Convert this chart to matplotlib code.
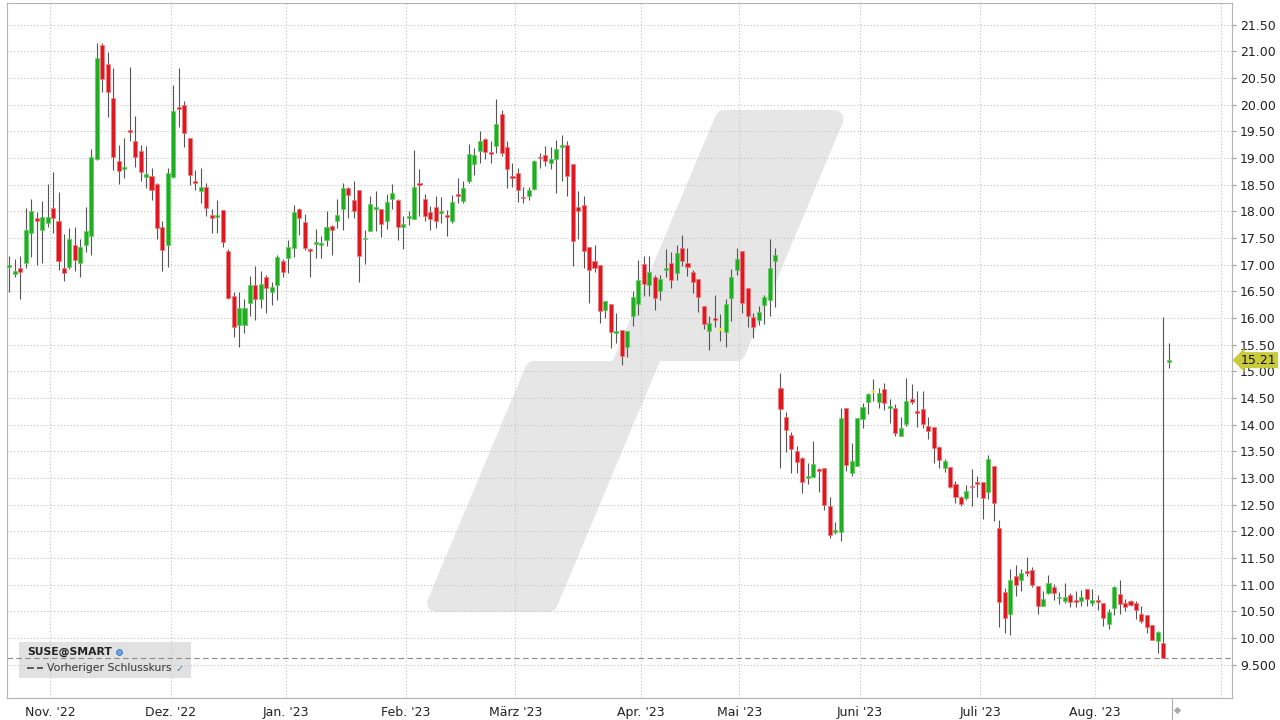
import matplotlib
matplotlib.use('Agg')
import matplotlib.pyplot as plt
import numpy as np
from matplotlib.patches import Polygon, Rectangle
from matplotlib.transforms import Affine2D, blended_transform_factory
from matplotlib.lines import Line2D

# ---------------- data ----------------
opens = [
    16.96, 16.83, 16.94, 17.03, 17.59, 17.88, 17.65, 17.78, 18.06, 17.82,
    16.93, 16.96, 17.37, 17.04, 17.37, 17.53, 18.98, 21.12, 20.76, 20.13,
    18.94, 18.79, 19.52, 19.32, 19.13, 18.65, 18.66, 18.51, 17.71, 17.37,
    18.64, 19.95, 19.99, 19.38, 18.57, 18.39, 18.45, 17.93, 17.90, 18.03,
    17.26, 16.42, 15.87, 15.86, 16.28, 16.61, 16.36, 16.77, 16.48, 16.61,
    17.07, 17.13, 17.32, 18.04, 17.80, 17.29, 17.40, 17.37, 17.47, 17.72,
    17.82, 18.04, 18.44, 18.21, 18.40, 17.48, 17.64, 18.06, 18.04, 17.82,
    18.23, 18.21, 17.71, 17.88, 17.86, 18.52, 18.23, 17.99, 18.09, 17.97,
    17.92, 17.82, 18.32, 18.20, 18.56, 18.89, 19.14, 19.35, 19.11, 19.23,
    19.82, 19.20, 18.66, 18.71, 18.27, 18.28, 18.41, 19.02, 19.06, 18.91,
    18.98, 19.22, 19.24, 18.89, 18.09, 18.11, 17.34, 17.07, 17.00, 16.15,
    16.26, 15.71, 15.78, 15.46, 16.04, 16.26, 17.01, 16.62, 16.76, 16.51,
    16.91, 17.04, 16.85, 17.32, 17.04, 16.86, 16.74, 16.23, 15.76, 15.99,
    15.79, 15.73, 16.38, 16.90, 17.26, 16.56, 16.01, 15.96, 16.24, 16.34,
    17.06, 14.69, 14.15, 13.81, 13.51, 13.37, 13.01, 13.01, 13.17, 13.18,
    12.48, 12.00, 11.99, 14.31, 13.09, 13.23, 14.11, 14.42, 14.63, 14.42,
    14.67, 14.31, 14.31, 13.79, 14.01, 14.49, 14.25, 14.29, 13.98, 13.96,
    13.59, 13.18, 13.20, 12.89, 12.64, 12.63, 12.85, 12.92, 12.92, 12.73,
    13.23, 12.07, 10.86, 10.45, 11.16, 11.08, 11.24, 11.28, 10.98, 10.60,
    10.84, 10.95, 10.75, 10.69, 10.81, 10.71, 10.70, 10.91, 10.66, 10.71,
    10.65, 10.26, 10.56, 10.83, 10.66, 10.70, 10.66, 10.45, 10.43, 10.24,
    9.94, 9.91, 15.19,
]
highs = [
    17.16, 17.10, 17.16, 18.06, 18.24, 17.98, 18.19, 18.51, 18.74, 18.36,
    17.58, 17.68, 17.70, 17.49, 18.09, 19.17, 21.15, 21.15, 20.99, 20.69,
    19.24, 19.37, 20.70, 19.78, 19.24, 19.23, 18.81, 18.54, 17.81, 18.81,
    20.37, 20.68, 20.07, 19.38, 18.78, 18.81, 18.54, 18.04, 18.22, 18.03,
    17.29, 16.49, 16.49, 16.36, 16.79, 16.97, 16.89, 16.81, 16.68, 17.18,
    17.10, 17.46, 18.12, 18.06, 17.95, 17.31, 17.66, 17.54, 18.01, 17.74,
    18.24, 18.54, 18.46, 18.57, 18.40, 17.65, 18.29, 18.38, 18.04, 18.33,
    18.51, 18.24, 17.91, 18.01, 19.15, 18.79, 18.33, 18.10, 18.28, 18.26,
    18.03, 18.31, 18.62, 18.57, 19.26, 19.18, 19.51, 19.37, 19.31, 20.10,
    19.90, 19.31, 18.90, 18.81, 18.46, 18.46, 18.96, 19.09, 19.23, 19.21,
    19.33, 19.44, 19.31, 18.89, 18.38, 18.28, 17.34, 17.37, 17.00, 16.32,
    16.26, 16.10, 15.78, 15.76, 16.51, 17.08, 17.16, 17.16, 16.81, 16.81,
    17.29, 17.23, 17.37, 17.56, 17.31, 16.90, 16.74, 16.23, 16.03, 16.44,
    16.07, 16.35, 16.91, 17.31, 17.26, 16.56, 16.10, 16.23, 16.43, 17.49,
    17.31, 14.97, 14.24, 13.87, 13.60, 13.40, 13.28, 13.69, 13.18, 13.18,
    12.65, 12.18, 14.32, 14.31, 13.65, 14.12, 14.40, 14.59, 14.86, 14.68,
    14.78, 14.49, 14.39, 14.15, 14.87, 14.76, 14.63, 14.63, 14.14, 13.96,
    13.60, 13.36, 13.20, 12.95, 12.66, 12.87, 13.17, 13.03, 12.92, 13.43,
    13.23, 12.21, 10.93, 11.29, 11.37, 11.29, 11.51, 11.33, 10.98, 10.88,
    11.19, 11.01, 10.87, 11.03, 10.84, 10.89, 10.90, 10.91, 10.91, 10.81,
    10.65, 10.54, 10.98, 11.09, 10.74, 10.71, 10.70, 10.60, 10.43, 10.24,
    10.13, 16.01, 15.53,
]
lows = [
    16.49, 16.76, 16.35, 16.93, 17.15, 16.99, 17.03, 17.71, 17.59, 16.90,
    16.69, 16.91, 16.88, 16.76, 17.23, 17.18, 18.96, 20.24, 19.76, 18.78,
    18.51, 18.62, 19.31, 18.84, 18.56, 18.43, 18.22, 17.48, 16.89, 16.96,
    18.62, 19.59, 19.20, 18.49, 18.40, 18.15, 17.92, 17.59, 17.59, 17.34,
    16.35, 15.65, 15.46, 15.71, 16.03, 15.96, 16.18, 16.10, 16.24, 16.34,
    16.77, 16.84, 17.15, 17.56, 17.28, 16.77, 17.12, 17.13, 17.35, 17.19,
    17.68, 17.65, 17.87, 17.88, 16.68, 17.01, 17.64, 17.64, 17.51, 17.66,
    18.04, 17.46, 17.29, 17.74, 17.86, 17.91, 17.82, 17.65, 17.68, 17.79,
    17.53, 17.79, 18.15, 18.15, 18.53, 18.68, 18.90, 18.98, 18.90, 19.10,
    19.03, 18.44, 18.46, 18.18, 18.15, 18.21, 18.40, 18.81, 18.85, 18.79,
    18.35, 18.56, 18.29, 16.98, 17.48, 16.93, 16.29, 16.87, 15.90, 16.00,
    15.43, 15.53, 15.12, 15.26, 15.85, 16.06, 16.41, 16.41, 16.15, 16.33,
    16.76, 16.56, 16.71, 16.98, 16.79, 16.46, 16.11, 15.79, 15.40, 15.84,
    15.56, 15.45, 15.94, 16.81, 16.09, 15.83, 15.63, 15.87, 15.88, 16.03,
    16.20, 13.19, 13.48, 13.10, 13.10, 12.71, 12.88, 13.01, 12.74, 12.40,
    11.87, 11.95, 11.82, 13.14, 13.03, 13.23, 13.93, 14.20, 14.44, 14.31,
    14.28, 14.04, 13.78, 13.79, 13.98, 14.39, 13.95, 13.93, 13.73, 13.29,
    13.19, 13.11, 12.81, 12.53, 12.48, 12.58, 12.48, 12.65, 12.23, 12.60,
    12.19, 10.21, 10.10, 10.06, 10.78, 10.89, 11.16, 10.95, 10.45, 10.60,
    10.83, 10.71, 10.63, 10.66, 10.58, 10.58, 10.60, 10.60, 10.60, 10.53,
    10.23, 10.16, 10.43, 10.45, 10.50, 10.60, 10.35, 10.29, 10.10, 9.96,
    9.71, 9.62, 15.06,
]
closes = [
    16.99, 16.89, 16.86, 17.65, 18.00, 17.82, 17.90, 17.90, 17.88, 17.07,
    16.85, 17.49, 17.09, 17.33, 17.63, 19.01, 20.87, 20.48, 20.24, 19.02,
    18.76, 18.84, 19.50, 19.01, 18.74, 18.70, 18.40, 17.69, 17.28, 18.71,
    19.88, 19.93, 19.46, 18.68, 18.53, 18.45, 18.06, 17.88, 17.92, 17.43,
    16.38, 15.84, 16.18, 16.18, 16.61, 16.36, 16.63, 16.56, 16.59, 17.15,
    16.86, 17.34, 17.99, 17.88, 17.32, 17.26, 17.42, 17.39, 17.71, 17.65,
    17.93, 18.44, 18.31, 18.01, 17.16, 17.50, 18.14, 18.08, 17.76, 18.17,
    18.35, 17.70, 17.76, 17.90, 18.45, 18.50, 17.91, 17.86, 17.82, 17.99,
    17.90, 18.17, 18.30, 18.43, 19.07, 19.06, 19.31, 19.11, 19.09, 19.64,
    19.10, 18.79, 18.64, 18.40, 18.25, 18.40, 18.94, 19.00, 18.95, 18.99,
    19.16, 19.24, 18.67, 17.45, 18.01, 17.26, 16.90, 16.94, 16.14, 16.32,
    15.73, 15.76, 15.28, 15.76, 16.40, 16.71, 16.64, 16.86, 16.38, 16.74,
    16.93, 16.71, 17.21, 17.06, 16.95, 16.68, 16.39, 15.88, 15.91, 15.96,
    15.79, 16.26, 16.76, 17.10, 16.28, 16.03, 15.84, 16.11, 16.39, 16.94,
    17.19, 14.29, 13.90, 13.54, 13.30, 12.92, 13.04, 13.26, 13.13, 12.49,
    11.93, 12.02, 14.13, 13.24, 13.31, 14.12, 14.34, 14.57, 14.63, 14.59,
    14.40, 14.35, 13.84, 13.94, 14.44, 14.43, 14.23, 14.01, 13.89, 13.57,
    13.34, 13.32, 12.84, 12.65, 12.51, 12.76, 12.83, 12.90, 12.62, 13.36,
    12.53, 10.67, 10.38, 11.09, 10.99, 11.21, 11.22, 10.99, 10.60, 10.74,
    11.04, 10.84, 10.77, 10.76, 10.68, 10.69, 10.76, 10.74, 10.71, 10.69,
    10.37, 10.48, 10.95, 10.64, 10.58, 10.62, 10.53, 10.31, 10.21, 9.96,
    10.11, 9.62, 15.21,
]

month_labels = ["Nov. '22", "Dez. '22", "Jan. '23", "Feb. '23", "März '23",
                "Apr. '23", "Mai '23", "Juni '23", "Juli '23", "Aug. '23", ""]
month_start = [8, 30, 51, 73, 93, 116, 134, 156, 178, 199, 222]

y_ticks = [9.5, 10.0, 10.5, 11.0, 11.5, 12.0, 12.5, 13.0, 13.5, 14.0, 14.5,
           15.0, 15.5, 16.0, 16.5, 17.0, 17.5, 18.0, 18.5, 19.0, 19.5, 20.0,
           20.5, 21.0, 21.5]
y_tick_labels = ["9.500", "10.00", "10.50", "11.00", "11.50", "12.00", "12.50",
                 "13.00", "13.50", "14.00", "14.50", "15.00", "15.50", "16.00",
                 "16.50", "17.00", "17.50", "18.00", "18.50", "19.00", "19.50",
                 "20.00", "20.50", "21.00", "21.50"]

prev_close = 9.62
last_price = 15.21
ticker = "SUSE@SMART"
prev_close_label = "Vorheriger Schlusskurs"

# ---------------- figure ----------------
W, H = 1280, 720
fig = plt.figure(figsize=(12.8, 7.2), dpi=100)
ax = fig.add_axes([6.7 / W, 22 / H, 1225 / W, 695 / H])
ax.set_facecolor('white')

# pixel -> figure transform (for decorations)
T = Affine2D().scale(1 / W, -1 / H).translate(0, 1) + fig.transFigure

# watermark (slanted logo shape)
wm = [(724.0, 119), (834.5, 119), (736.6, 352), (654.0, 352), (548.6, 603),
      (436.1, 603), (534.0, 370), (618.6, 370)]
ax.add_patch(Polygon(wm, closed=True, transform=T, fc='#e6e6e6', ec='#e6e6e6',
                     lw=13, joinstyle='round', zorder=0.1))

# legend box
ax.add_patch(Rectangle((19, 642), 172, 36, transform=T, fc='#e1e1e1', ec='none',
                       zorder=0.3, clip_on=False))

x = np.arange(len(opens))
o = np.array(opens); c = np.array(closes); hi = np.array(highs); lo = np.array(lows)

body_cols, edge_cols = [], []
for oo, cc in zip(o, c):
    if cc > oo:
        body_cols.append('#21ad21'); edge_cols.append('#5fcf5f')
    elif cc < oo:
        body_cols.append('#dd1820'); edge_cols.append('#f07a7e')
    else:
        body_cols.append('#e8e21a'); edge_cols.append('#f0ee80')

min_h = 0.035
hgt = np.maximum(np.abs(c - o), min_h)
bottom = np.minimum(o, c) - (hgt - np.abs(c - o)) / 2

ax.vlines(x, lo, hi, color='#555555', lw=0.8, zorder=3)
ax.bar(x, hgt, bottom=bottom, width=0.74, color=body_cols, edgecolor=edge_cols,
       linewidth=0.5, zorder=4)

# previous close line
ax.axhline(prev_close, color='#8a8a8a', lw=0.8, ls=(0, (5, 3)), zorder=2.5)

ax.set_xlim(-0.475, 223.5)
ax.set_ylim(8.875, 21.906)

ax.set_xticks([m - 0.5 for m in month_start])
ax.set_xticklabels(month_labels)
ax.set_yticks(y_ticks)
ax.set_yticklabels(y_tick_labels)
ax.yaxis.tick_right()
ax.set_axisbelow(True)
ax.grid(True, color='#c4c4c4', lw=0.8, ls=(0, (1, 2)))
ax.tick_params(axis='x', length=0, pad=6, labelsize=9, labelcolor='#222222')
ax.tick_params(axis='y', length=3, color='#999999', pad=3, labelsize=9,
               labelcolor='#222222')
for s in ax.spines.values():
    s.set_color('#b4b4b4')
    s.set_linewidth(0.8)

# last price label
tr = blended_transform_factory(ax.transAxes, ax.transData)
ax.text(1.0075, last_price, f"{last_price:.2f}", transform=tr, ha='left',
        va='center', fontsize=9, color='#111111', zorder=10, clip_on=False,
        bbox=dict(boxstyle='larrow,pad=0.12', fc='#c9cb3c', ec='none'))

# marker below axis at last candle
trx = blended_transform_factory(ax.transData, ax.transAxes)
ax.plot([len(opens) - 0.5, len(opens) - 0.5], [0, -0.032], transform=trx,
        color='#aaaaaa', lw=0.8, clip_on=False)
ax.plot([len(opens) + 0.45], [-0.0175], transform=trx, marker='D', ms=2.8,
        color='#aaaaaa', clip_on=False)

# legend texts
ax.text(27, 652, ticker, transform=T, fontsize=7.8, fontweight='bold',
        color='#222222', va='center', ha='left', zorder=10, clip_on=False)
ax.plot([118.5], [651.5], transform=T, marker='o', ms=4.2, mfc='#6aa6e6',
        mec='#2f6fbf', mew=0.6, clip_on=False, zorder=10)
ax.add_line(Line2D([27, 43], [668, 668], transform=T, color='#333333', lw=1.1,
                   ls=(0, (4.5, 2)), zorder=10, clip_on=False))
ax.text(47, 668, prev_close_label, transform=T, fontsize=7.8, color='#333333',
        va='center', ha='left', zorder=10, clip_on=False)
ax.text(180, 669, '\u2713', transform=T, fontsize=7, color='#3d7fd0',
        va='center', ha='center', zorder=10, clip_on=False)

fig.savefig('out.png', dpi=100, facecolor='white')
